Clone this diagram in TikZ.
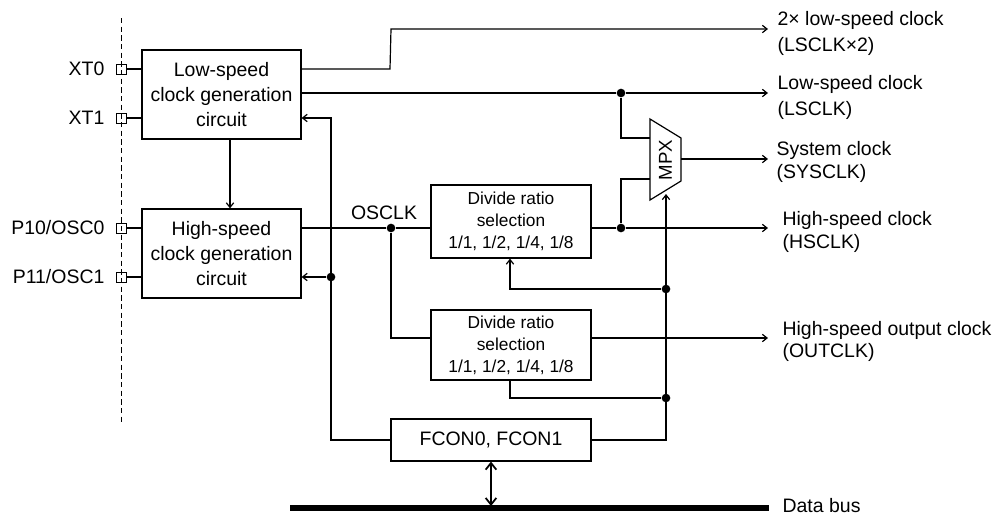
\documentclass[tikz,border=0pt]{standalone}
\usepackage{fontspec}
\setmainfont{Liberation Sans}
\usetikzlibrary{arrows.meta}

\begin{document}
\begin{tikzpicture}[x=0.75pt,y=-0.75pt,line width=0.9pt,
  >={Straight Barb[length=3.5pt,width=5.5pt]},
  blk/.style={draw, minimum width=119.25pt, minimum height=66.75pt, align=center, inner sep=0pt, font=\fontsize{14.6}{18.75}\selectfont},
  divbox/.style={draw, minimum width=120pt, align=center, inner sep=0pt, font=\fontsize{13}{16.5}\selectfont},
  pinbox/.style={draw, minimum size=7.5pt, inner sep=0pt, line width=0.75pt},
  jdot/.style={circle, fill, inner sep=0pt, minimum size=6.5pt},
  lbl/.style={inner sep=0pt, font=\fontsize{14.6}{17.5}\selectfont},
  outlbl/.style={anchor=west, align=left, inner sep=0pt, font=\fontsize{14.6}{#1}\selectfont},
  outlbl/.default=18]
\useasboundingbox (0,0) rectangle (993,515);
% chip boundary
\draw[line width=0.7pt, dash pattern=on 4pt off 2.5pt] (121.5,18) -- (121.5,425);

% blocks
\node[blk] (ls) at (221.5,94.5) {Low-speed\\clock generation\\circuit};
\node[blk] (hs) at (221.5,253.5) {High-speed\\clock generation\\circuit};
\node[divbox, minimum height=54.75pt] (dv1) at (511,221.5) {Divide ratio\\selection\\1/1,\ 1/2,\ 1/4,\ 1/8};
\node[divbox, minimum height=52.5pt] (dv2) at (511,345) {Divide ratio\\selection\\1/1,\ 1/2,\ 1/4,\ 1/8};
\node[blk, minimum width=150pt, minimum height=31.5pt] (fcon) at (491,440) {FCON0, FCON1};

% pins
\foreach \nm/\y/\txt in {xt0/69/XT0, xt1/118/XT1, p10/228/{P10/OSC0}, p11/277/{P11/OSC1}} {
  \node[pinbox] (\nm) at (121.5,\y) {};
  \node[lbl, anchor=east] (\nm lbl) at (105,\y) {\txt};
}
\draw (xt0) -- (xt0 -| ls.west);
\draw (xt1) -- (xt1 -| ls.west);
\draw (p10) -- (p10 -| hs.west);
\draw (p11) -- (p11 -| hs.west);

% outputs
\coordinate (e1) at (768,29);
\coordinate (e2) at (768,93);
\coordinate (e3) at (768,159);
\coordinate (e4) at (768,228);
\coordinate (e5) at (768,338);
\node[outlbl=20] (lsx2) at (777,33.5) {2× low-speed clock\\(LSCLK×2)};
\node[outlbl=19.5] (lsclk) at (777,97) {Low-speed clock\\(LSCLK)};
\node[outlbl=17.25] (sysclk) at (776,161.5) {System clock\\(SYSCLK)};
\node[outlbl=17.25] (hsclk) at (782,231.5) {High-speed clock\\(HSCLK)};
\node[outlbl=16.5] (outclk) at (782,341) {High-speed output clock\\(OUTCLK)};
\node[outlbl] (dbus) at (782,506) {Data bus};

% low-speed side
\draw[->] (xt0 -| ls.east) -- (390,69) -- (391,29) -- (e1);
\node[jdot] (j1) at (621,93) {};
\draw (ls.east |- j1) -- (j1);
\draw[->] (j1) -- (e2);
\draw[->] (ls.south -| 230,0) -- (hs.north -| 230,0);

% multiplexer
\draw (650,119) -- (681,138) -- (681,181) -- (650,200) -- cycle;
\node[rotate=90, inner sep=0pt, font=\fontsize{14}{16}\selectfont] (mpx) at (665.5,160) {MPX};
\coordinate (mpxa) at (650,138);
\coordinate (mpxb) at (650,179);
\coordinate (mpxo) at (681,159);
\coordinate (mpxs) at (666,194);
\draw (j1) |- (mpxa);
\draw[->] (mpxo) -- (e3);

% high-speed side
\node[jdot] (j2) at (391,228) {};
\node[lbl] (osclk) at (384,213) {OSCLK};
\draw (p10 -| hs.east) -- (j2) -- (j2 -| dv1.west);
\draw (j2) |- ([yshift=5.25pt]dv2.west);
\node[jdot] (j4) at (621,228) {};
\draw (dv1.east |- j4) -- (j4);
\draw[->] (j4) -- (e4);
\draw (j4) |- (mpxb);
\draw[->] ([yshift=5.25pt]dv2.east) -- (e5);

% control lines
\node[jdot] (j3) at (331,277) {};
\draw[->] (fcon.west) -| (xt1 -| j3) -- (xt1 -| ls.east);
\draw[->] (j3) -- (j3 -| hs.east);
\node[jdot] (j5) at (666,289) {};
\node[jdot] (j6) at (666,398) {};
\draw[->] (fcon.east) -| (mpxs);
\draw[->] (j5) -| ([xshift=-0.75pt]dv1.south);
\draw ([xshift=-0.75pt]dv2.south) |- (j6);

% data bus
\coordinate (busl) at (290,508);
\coordinate (busr) at (769,508);
\draw[line width=4.2pt] (busl) -- (busr);
\draw[{Straight Barb[length=5pt,width=8pt]}-{Straight Barb[length=5pt,width=8pt]}, line width=1.3pt, shorten >=1.5pt] (fcon.south) -- (fcon.south |- busl);
\end{tikzpicture}
\end{document}
